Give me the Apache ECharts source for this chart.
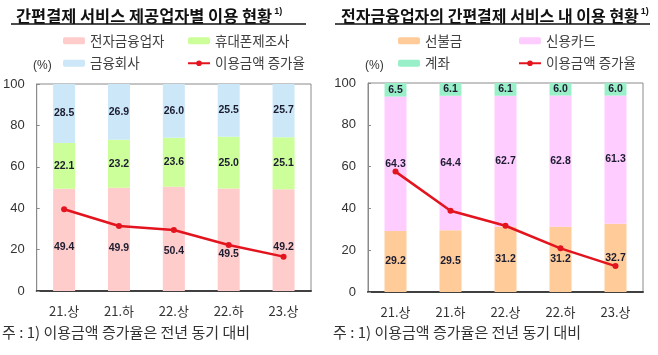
<!DOCTYPE html>
<html><head><meta charset="utf-8">
<script src="https://cdn.jsdelivr.net/npm/echarts@6/dist/echarts.min.js"></script>
<style>
html,body{margin:0;padding:0;background:#fff;width:658px;height:355px;overflow:hidden}
#c1{position:absolute;left:0;top:0;width:330px;height:355px}
#c2{position:absolute;left:330px;top:0;width:328px;height:355px}
</style></head><body>
<div id="c1"></div><div id="c2"></div>
<script>
// ---- data ----
const categories = ['21.상', '21.하', '22.상', '22.하', '23.상'];
const yTicks = [0, 20, 40, 60, 80, 100];
// left chart: 간편결제 서비스 제공업자별 이용 현황
const leftTitle = '간편결제 서비스 제공업자별 이용 현황';
const eFinance = [49.4, 49.9, 50.4, 49.5, 49.2];   // 전자금융업자
const phoneMaker = [22.1, 23.2, 23.6, 25.0, 25.1]; // 휴대폰제조사
const finCompany = [28.5, 26.9, 26.0, 25.5, 25.7]; // 금융회사
const leftGrowth = [39.5, 31.4, 29.5, 22.2, 16.6]; // 이용금액 증가율
// right chart: 전자금융업자의 간편결제 서비스 내 이용 현황
const rightTitle = '전자금융업자의 간편결제 서비스 내 이용 현황';
const prepaid = [29.2, 29.5, 31.2, 31.2, 32.7];    // 선불금
const creditCard = [64.3, 64.4, 62.7, 62.8, 61.3]; // 신용카드
const account = [6.5, 6.1, 6.1, 6.0, 6.0];         // 계좌
const rightGrowth = [57.6, 38.9, 31.7, 20.9, 12.4];// 이용금액 증가율
const footnote = '주 : 1) 이용금액 증가율은 전년 동기 대비';

// ---- styles ----
const KR = '"Noto Sans CJK KR", sans-serif';
const NUM = '"Liberation Sans", "Noto Sans CJK KR", sans-serif';
const LINE_RED = '#E3141E';
const pinkLabelShift = [7, 9, 12, 14, 7];

function fmt(p){ return p.value.toFixed(1); }

function barSeries(name, data, color, shifts){
  const lbl = { show: true, position: 'inside', formatter: fmt,
    fontFamily: NUM, fontWeight: 'bold', fontSize: 10.5, color: '#1c1c30' };
  return {
    name, type: 'bar', stack: 's', barWidth: 22,
    itemStyle: { color }, label: lbl,
    data: shifts ? data.map((v, i) => ({ value: v, label: Object.assign({}, lbl, { offset: [0, shifts[i]] }) })) : data
  };
}
function lineSeries(data){
  return {
    name: '이용금액 증가율', type: 'line', data, z: 5,
    symbol: 'circle', symbolSize: 6,
    lineStyle: { color: LINE_RED, width: 2.5 }, itemStyle: { color: LINE_RED }
  };
}
function legend(left, names){
  return { orient: 'vertical', left, top: 29, itemWidth: 22, itemHeight: 7, itemGap: 9,
    data: names, textStyle: { fontFamily: KR, fontSize: 13.5, color: '#404040' },
    selectedMode: false };
}
function base(o){
  return {
    animation: false,
    title: { text: '{t|' + o.title + '}{s|1)}', left: o.titleLeft, top: 2,
      textStyle: { rich: {
        t: { fontFamily: KR, fontWeight: 'bold', fontSize: o.titleSize, color: '#111' },
        s: { fontFamily: NUM, fontWeight: 'bold', fontSize: 9, color: '#111', padding: [0, 0, 9, 2] }
      } } },
    legend: [legend(o.l1, o.col1), legend(o.l2, o.col2)],
    grid: { left: o.gl, right: o.gr, top: o.gt, bottom: o.gb, show: true, borderColor: '#8a8a8a', borderWidth: 1 },
    xAxis: { type: 'category', data: categories,
      axisLine: { lineStyle: { color: '#404040', width: 2 } }, axisTick: { show: false },
      axisLabel: { margin: 14, fontFamily: KR, fontSize: 13, color: '#333' } },
    yAxis: { type: 'value', min: 0, max: 100, interval: 20,
      axisLine: { show: true, lineStyle: { color: '#8a8a8a' } },
      axisTick: { show: true, inside: true, length: 3, lineStyle: { color: '#8a8a8a' } },
      splitLine: { show: false },
      axisLabel: { margin: 12, fontFamily: NUM, fontSize: 13, color: '#333',
        formatter: v => yTicks.includes(v) ? String(v) : '' } },
    graphic: [
      { type: 'line', shape: { x1: o.ul1, y1: 24, x2: o.ul2, y2: 24 }, style: { stroke: '#111', lineWidth: 1.5 } },
      { type: 'text', left: o.pctX, top: 60, style: { text: '(%)', fontFamily: 'Liberation Sans', fontSize: 12, fill: '#333' } },
      { type: 'text', left: o.fnX, top: 325, style: { text: footnote, fontFamily: 'Noto Sans CJK KR', fontSize: 15, fill: '#333' } }
    ],
    series: o.series
  };
}

const c1 = echarts.init(document.getElementById('c1'));
c1.setOption(base({
  title: leftTitle, titleLeft: 11, titleSize: 16.4, ul1: 11, ul2: 306,
  l1: 58, l2: 182, col1: ['전자금융업자', '금융회사'], col2: ['휴대폰제조사', '이용금액 증가율'],
  gl: 35, gr: 19, gt: 84, gb: 64, pctX: 33, fnX: 2,
  series: [
    barSeries('전자금융업자', eFinance, '#FFCCCC', pinkLabelShift),
    barSeries('휴대폰제조사', phoneMaker, '#CCFF99'),
    barSeries('금융회사', finCompany, '#CCE8F8'),
    lineSeries(leftGrowth)
  ]
}));

const c2 = echarts.init(document.getElementById('c2'));
c2.setOption(base({
  title: rightTitle, titleLeft: 6, titleSize: 16, ul1: 5, ul2: 320,
  l1: 63, l2: 183, col1: ['선불금', '계좌'], col2: ['신용카드', '이용금액 증가율'],
  gl: 38, gr: 15, gt: 83, gb: 63, pctX: 35, fnX: 3,
  series: [
    barSeries('선불금', prepaid, '#FFCC99'),
    barSeries('신용카드', creditCard, '#FFCCFF'),
    barSeries('계좌', account, '#99F0C8'),
    lineSeries(rightGrowth)
  ]
}));
</script>
</body></html>
